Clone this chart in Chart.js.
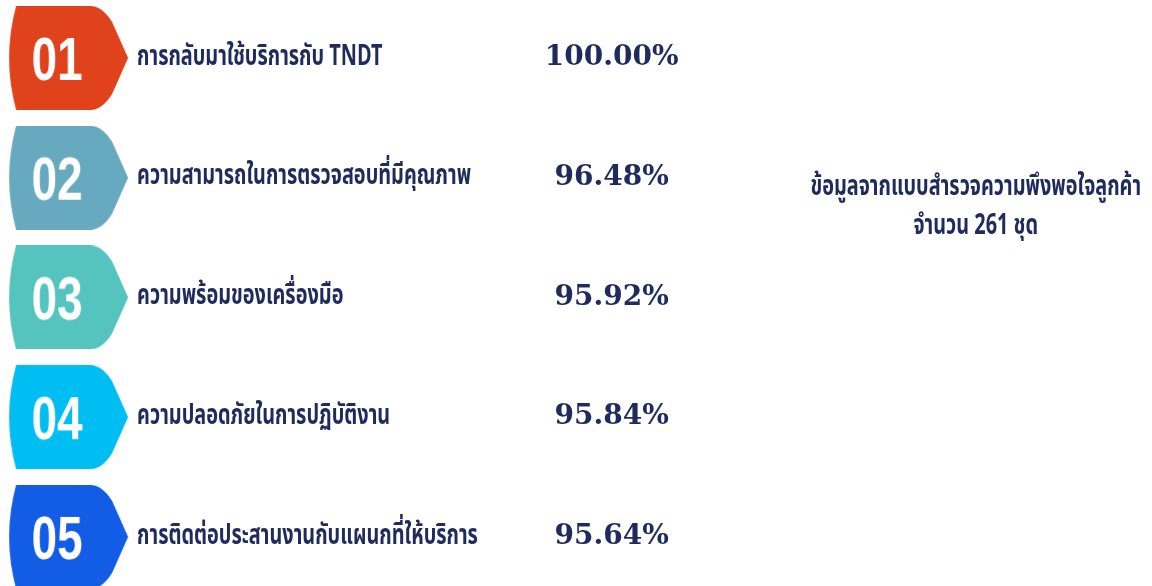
<!DOCTYPE html>
<html>
<head>
<meta charset="utf-8">
<script src="https://cdn.jsdelivr.net/npm/chart.js@4.4.0/dist/chart.umd.min.js"></script>
<style>
  html, body { margin: 0; padding: 0; background: #fff; }
  #wrap { width: 1152px; height: 586px; }
</style>
</head>
<body>
<div id="wrap"><canvas id="chart"></canvas></div>
<script>
// data
let numbers = ['01', '02', '03', '04', '05'];
let topics = [
  'การกลับมาใช้บริการกับ TNDT',
  'ความสามารถในการตรวจสอบที่มีคุณภาพ',
  'ความพร้อมของเครื่องมือ',
  'ความปลอดภัยในการปฏิบัติงาน',
  'การติดต่อประสานงานกับแผนกที่ให้บริการ'
];
let scores = [100.00, 96.48, 95.92, 95.84, 95.64];
let badgeColors = ['#E0431C', '#67AABF', '#55C4BE', '#00BDF2', '#135DE6'];
let noteLines = ['ข้อมูลจากแบบสำรวจความพึงพอใจลูกค้า', 'จำนวน 261 ชุด'];

let navy = '#1E2B5C';
let thaiFont = '"Noto Sans Thai", "Noto Sans", "DejaVu Sans", sans-serif';

// badge image used as point style
function makeBadge(color, num) {
  let c = document.createElement('canvas');
  c.width = 130;
  c.height = 104;
  let ctx = c.getContext('2d');
  ctx.fillStyle = color;
  ctx.beginPath();
  ctx.moveTo(12, 0);
  ctx.lineTo(86, 0);
  ctx.quadraticCurveTo(98, 0, 108, 16);
  ctx.lineTo(124, 52);
  ctx.lineTo(108, 88);
  ctx.quadraticCurveTo(98, 104, 86, 104);
  ctx.lineTo(12, 104);
  ctx.quadraticCurveTo(-2, 52, 12, 0);
  ctx.closePath();
  ctx.fill();

  ctx.save();
  ctx.fillStyle = '#fff';
  ctx.textAlign = 'center';
  ctx.textBaseline = 'alphabetic';
  ctx.translate(53, 74);
  ctx.scale(0.74, 1);
  ctx.font = 'bold 62px "Liberation Sans Narrow", "Liberation Sans", sans-serif';
  ctx.fillText(num, 0, 0);
  ctx.restore();
  return c;
}

let badges = numbers.map(function (n, i) { return makeBadge(badgeColors[i], n); });

let badgeX = 0.6;
let topicX = 1.19;
let scoreX = 5.31;
let noteX = 8.47;

let points = [];
for (let i = 0; i < numbers.length; i++) {
  points.push({ x: badgeX, y: i });
}

function squeezedText(ctx, text, x, y, sx) {
  ctx.save();
  ctx.translate(x, y);
  ctx.scale(sx, 1);
  ctx.fillText(text, 0, 0);
  ctx.restore();
}

let rowText = {
  id: 'rowText',
  afterDatasetsDraw: function (chart) {
    let ctx = chart.ctx;
    let xs = chart.scales.x;
    let ys = chart.scales.y;
    ctx.save();
    ctx.fillStyle = navy;
    for (let i = 0; i < topics.length; i++) {
      let y = ys.getPixelForValue(i);
      ctx.textAlign = 'left';
      ctx.textBaseline = 'middle';
      ctx.font = 'bold 28px ' + thaiFont;
      squeezedText(ctx, topics[i], xs.getPixelForValue(topicX), y + 1, 0.71);

      ctx.textAlign = 'center';
      ctx.font = 'bold 28px "DejaVu Serif", "Liberation Serif", serif';
      ctx.fillText(scores[i].toFixed(2) + '%', xs.getPixelForValue(scoreX), y);
    }
    ctx.textAlign = 'center';
    ctx.font = 'bold 28px ' + thaiFont;
    squeezedText(ctx, noteLines[0], xs.getPixelForValue(noteX), ys.getPixelForValue(1.1), 0.71);
    squeezedText(ctx, noteLines[1], xs.getPixelForValue(noteX), ys.getPixelForValue(1.42), 0.71);
    ctx.restore();
  }
};

let options = {
  type: 'scatter',
  data: {
    datasets: [
      {
        data: points,
        pointStyle: badges,
        pointRadius: 52,
        pointHoverRadius: 52,
        clip: false,
      },
    ],
  },
  options: {
    responsive: true,
    maintainAspectRatio: false,
    animation: false,
    layout: { padding: 0, autoPadding: false },
    plugins: {
      legend: { display: false },
      tooltip: { enabled: false },
    },
    scales: {
      x: { type: 'linear', display: false, min: 0, max: 10 },
      y: { type: 'linear', display: false, reverse: true, min: -0.484, max: 4.41 },
    },
  },
  plugins: [rowText],
};

let chart = new Chart(document.getElementById('chart'), options);
</script>
</body>
</html>
